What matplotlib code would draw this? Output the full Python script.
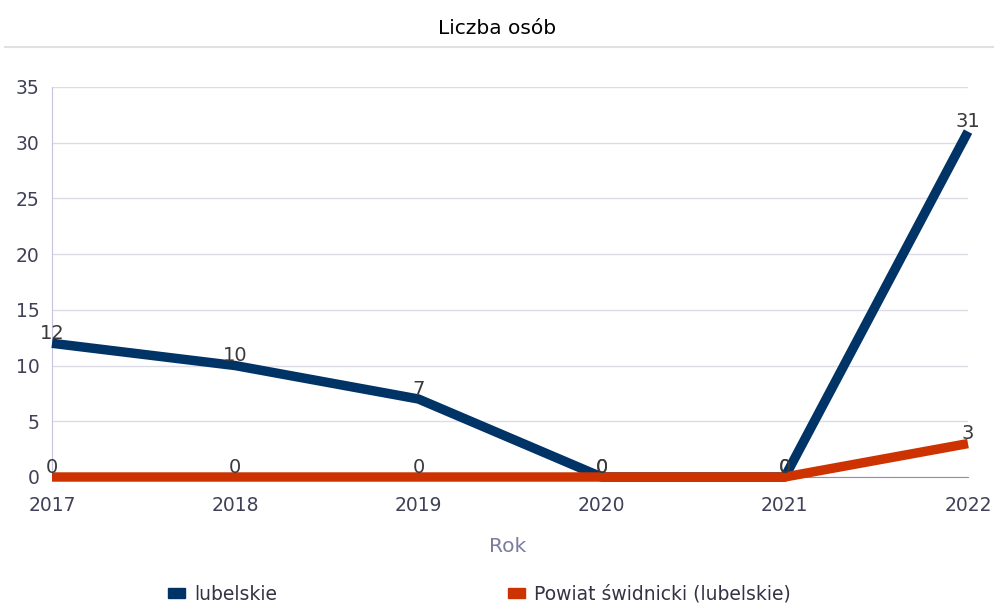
import matplotlib.pyplot as plt
from matplotlib.patches import Patch
from matplotlib.lines import Line2D

# Data
years = [2017, 2018, 2019, 2020, 2021, 2022]
lubelskie = [12, 10, 7, 0, 0, 31]
swidnicki = [0, 0, 0, 0, 0, 3]
series_names = ["lubelskie", "Powiat świdnicki (lubelskie)"]

navy = "#003366"
red = "#cc3300"
tick_col = "#404058"

fig = plt.figure(figsize=(9.94, 6.07), dpi=100)
ax = fig.add_axes([52 / 994, 1 - 477 / 607, (968 - 52) / 994, (477 - 87) / 607])

ax.plot(years, lubelskie, color=navy, lw=6.8, solid_capstyle="butt", zorder=3, clip_on=False)
ax.plot(years, swidnicki, color=red, lw=6.8, solid_capstyle="butt", zorder=4, clip_on=False)

# value labels
for vals in (lubelskie, swidnicki):
    for x, v in zip(years, vals):
        ax.annotate(str(v), (x, v), xytext=(0, 3), textcoords="offset points",
                    ha="center", va="baseline", fontsize=14, color="#3a3a3a", zorder=5)

ax.set_xlim(2017, 2022)
ax.set_ylim(0, 35)
ax.set_yticks(range(0, 36, 5))
ax.set_xticks(years)
ax.grid(axis="y", color="#dcdce6", lw=1)
ax.set_axisbelow(True)
for s in ("top", "right"):
    ax.spines[s].set_visible(False)
ax.spines["left"].set_color("#c4c4dc")
ax.spines["bottom"].set_color("#9090b0")
ax.tick_params(axis="both", length=0, labelsize=13.5, labelcolor=tick_col)
ax.tick_params(axis="x", pad=14)
ax.tick_params(axis="y", pad=9)

# title and separator
fig.text(497 / 994, 1 - 28 / 607, "Liczba osób", ha="center", va="center",
         fontsize=14.5, color="black")
fig.add_artist(Line2D([5 / 994, 1], [1 - 47 / 607] * 2, color="#e0e0e0", lw=1.5))

# axis title
fig.text(508 / 994, 1 - 547 / 607, "Rok", ha="center", va="center",
         fontsize=14.5, color="#7c7c9c")

handles = [Patch(color=navy), Patch(color=red)]
fig.legend(handles, series_names, loc="center left", bbox_to_anchor=(151 / 994, 1 - 594 / 607),
           ncol=2, frameon=False, fontsize=13.5, handlelength=0.9, handleheight=0.5,
           handletextpad=0.5, columnspacing=12.3, labelcolor="#333344")

fig.savefig("out.png", dpi=100)
